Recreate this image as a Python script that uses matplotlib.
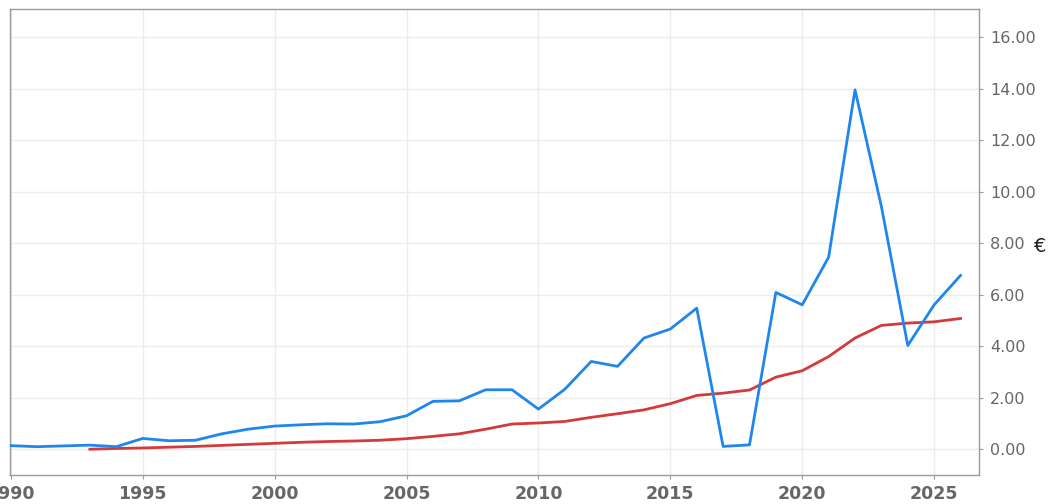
import numpy as np
import matplotlib
matplotlib.use("Agg")
import matplotlib.pyplot as plt

# blue series, one value per year 1990..2026
blue_years = list(range(1990, 2027))
blue_vals = [0.14, 0.10, 0.13, 0.16, 0.10, 0.42, 0.33, 0.35, 0.60, 0.78,
             0.90, 0.95, 0.99, 0.98, 1.07, 1.30, 1.86, 1.88, 2.31, 2.31,
             1.56, 2.33, 3.41, 3.22, 4.32, 4.67, 5.48, 0.11, 0.17, 6.09,
             5.61, 7.46, 13.96, 9.43, 4.03, 5.61, 6.75]

# red series, 1993..2026
red_years = list(range(1993, 2027))
red_vals = [0.00, 0.03, 0.05, 0.08, 0.11, 0.15, 0.19, 0.23, 0.27, 0.30,
            0.32, 0.35, 0.41, 0.50, 0.60, 0.78, 0.98, 1.02, 1.08, 1.24,
            1.38, 1.53, 1.77, 2.09, 2.18, 2.30, 2.80, 3.05, 3.60, 4.32,
            4.81, 4.90, 4.95, 5.08]

x_ticks = [1990, 1995, 2000, 2005, 2010, 2015, 2020, 2025]
y_ticks = [0, 2, 4, 6, 8, 10, 12, 14, 16]

fig = plt.figure(figsize=(10.52, 5.04), dpi=100)
ax = fig.add_axes([10 / 1052, 1 - 475 / 504, 969 / 1052, 466 / 504])

ax.plot(red_years, red_vals, color="#d23a3c", lw=2.0, zorder=3)
ax.plot(blue_years, blue_vals, color="#1f86ee", lw=2.0, zorder=4)

ax.set_xlim(1989.97, 2026.7)
ax.set_ylim(-1.0, 17.1)
ax.set_xticks(x_ticks)
ax.set_yticks(y_ticks)
ax.set_yticklabels(["%.2f" % v for v in y_ticks])
ax.yaxis.tick_right()

# currency label right of the tick labels
fig.text(1040 / 1052, 1 - 247 / 504, "€", fontsize=14, color="#222",
         ha="center", va="center")

ax.grid(True, color="#ececec", lw=1.0)
ax.set_axisbelow(True)
for s in ax.spines.values():
    s.set_color("#9a9a9a")
    s.set_linewidth(1.0)
ax.tick_params(axis="both", colors="#9a9a9a", length=3, width=0.8,
               labelcolor="#666666", labelsize=11.5)
ax.tick_params(axis="x", pad=4, labelsize=12.5)
ax.tick_params(axis="y", pad=5)
for lbl in ax.get_xticklabels():
    lbl.set_fontweight("semibold")

fig.savefig("out.png", dpi=100)
